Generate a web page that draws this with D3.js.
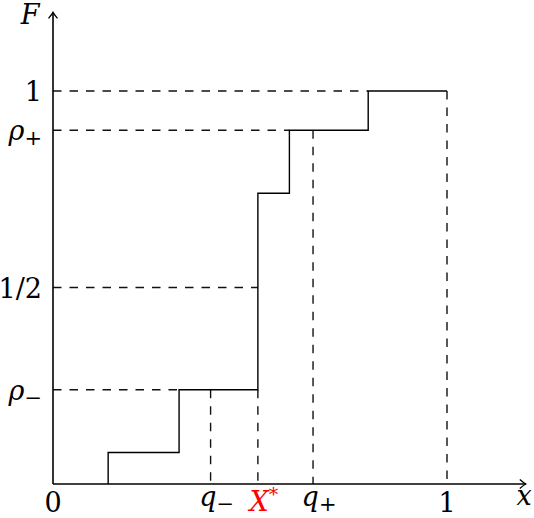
<!DOCTYPE html>
<html>
<head>
<meta charset="utf-8">
<script src="https://cdn.jsdelivr.net/npm/d3@7"></script>
<style>
  body { margin: 0; background: #fff; }
  text { font-family: "DejaVu Serif", serif; font-size: 27px; }
  .step { fill: none; stroke: #000; stroke-width: 1.4; }
  .guide { fill: none; stroke: #111; stroke-width: 1.4; stroke-dasharray: 8.5 8; }
  .axis { stroke: #000; stroke-width: 1.6; }
</style>
</head>
<body>
<div id="chart"></div>
<script>
// step points of F (curveStepBefore: rise at x, then run to next x)
var stepX = [0.14, 0.32, 0.52, 0.60, 0.80, 1.0];
var stepF = [0, 0.08, 0.24, 0.74, 0.90, 1.0];

// named levels and points
var rhoMinus = 0.24, half = 0.5, rhoPlus = 0.90, one = 1.0;
var qMinus = 0.40, xStar = 0.52, qPlus = 0.66;

// dashed horizontal guides: level and where they stop
var hLevels = [one, rhoPlus, half, rhoMinus];
var hEnds = [0.80, 0.60, 0.52, 0.32];
// dashed vertical guides: position and height
var vPos = [1.0, qPlus, xStar, qMinus];
var vTops = [1.0, rhoPlus, rhoMinus, rhoMinus];

var yTicks = [one, rhoPlus, half, rhoMinus];
var yLabels = [["1", ""], ["ρ", "+"], ["1/2", ""], ["ρ", "−"]];
var xTicks = [0, qMinus, xStar, qPlus, 1.0];
var xLabels = [["0", ""], ["q", "−"], ["X", "*"], ["q", "+"], ["1", ""]];

function init() {
    var w = 534, h = 518;

    var x = d3.scaleLinear().domain([0, 1.2]).range([53, 525.8]);
    var y = d3.scaleLinear().domain([0, 1.2]).range([484, 12.4]);

    var svg = d3.select("#chart").append("svg")
        .attr("width", w).attr("height", h);

    svg.append("defs").append("marker")
        .attr("id", "arr")
        .attr("viewBox", "-8 -6 10 12")
        .attr("markerWidth", 10).attr("markerHeight", 12)
        .attr("markerUnits", "userSpaceOnUse")
        .attr("orient", "auto")
        .append("path")
        .attr("d", "M-6,-4.5 Q-2,-1 0,0 Q-2,1 -6,4.5")
        .attr("fill", "none").attr("stroke", "#000").attr("stroke-width", 1.3);

    // dashed guides
    hLevels.forEach(function(lv, i) {
        svg.append("line").attr("class", "guide")
            .attr("x1", x(0)).attr("y1", y(lv))
            .attr("x2", x(hEnds[i])).attr("y2", y(lv));
    });
    vPos.forEach(function(p, i) {
        svg.append("line").attr("class", "guide")
            .attr("x1", x(p)).attr("y1", y(vTops[i]))
            .attr("x2", x(p)).attr("y2", y(0));
    });

    // the step function
    var pts = stepX.map(function(d, i) { return [d, stepF[i]]; });
    var line = d3.line()
        .x(function(d) { return x(d[0]); })
        .y(function(d) { return y(d[1]); })
        .curve(d3.curveStepBefore);
    svg.append("path").attr("class", "step").attr("d", line(pts));

    // axes with arrows
    svg.append("line").attr("class", "axis")
        .attr("x1", x(0)).attr("y1", y(0))
        .attr("x2", x(1.2)).attr("y2", y(0))
        .attr("marker-end", "url(#arr)");
    svg.append("line").attr("class", "axis")
        .attr("x1", x(0)).attr("y1", y(0))
        .attr("x2", x(0)).attr("y2", y(1.2))
        .attr("marker-end", "url(#arr)");

    // y labels
    yTicks.forEach(function(t, i) {
        var tx = svg.append("text")
            .attr("x", 42).attr("y", y(t) + 10)
            .attr("text-anchor", "end");
        var lab = yLabels[i];
        tx.append("tspan").attr("font-style", lab[0] == "ρ" ? "italic" : "normal").text(lab[0]);
        if (lab[1]) tx.append("tspan").attr("font-size", "21px").attr("dy", 5).text(lab[1]);
    });

    // x labels
    var xBase = [512, 506, 511, 506, 512];
    xTicks.forEach(function(t, i) {
        var lab = xLabels[i];
        var tx = svg.append("text")
            .attr("x", x(t) + (lab[1] ? 6 : 0)).attr("y", xBase[i])
            .attr("text-anchor", "middle")
            .attr("fill", lab[0] == "X" ? "#ff0000" : "#000");
        tx.append("tspan").attr("font-style", /[0-9]/.test(lab[0]) ? "normal" : "italic").text(lab[0]);
        if (lab[1] == "*") {
            tx.append("tspan").attr("font-size", "19px").attr("dy", -10).text(lab[1]);
        } else if (lab[1]) {
            tx.append("tspan").attr("font-size", "21px").attr("dy", 5).text(lab[1]);
        }
    });

    svg.append("text").attr("x", 524).attr("y", 505)
        .attr("text-anchor", "middle").attr("font-style", "italic").text("x");
    svg.append("text").attr("x", 30).attr("y", 24)
        .attr("text-anchor", "middle").attr("font-style", "italic").text("F");
}

window.onload = init;
</script>
</body>
</html>
